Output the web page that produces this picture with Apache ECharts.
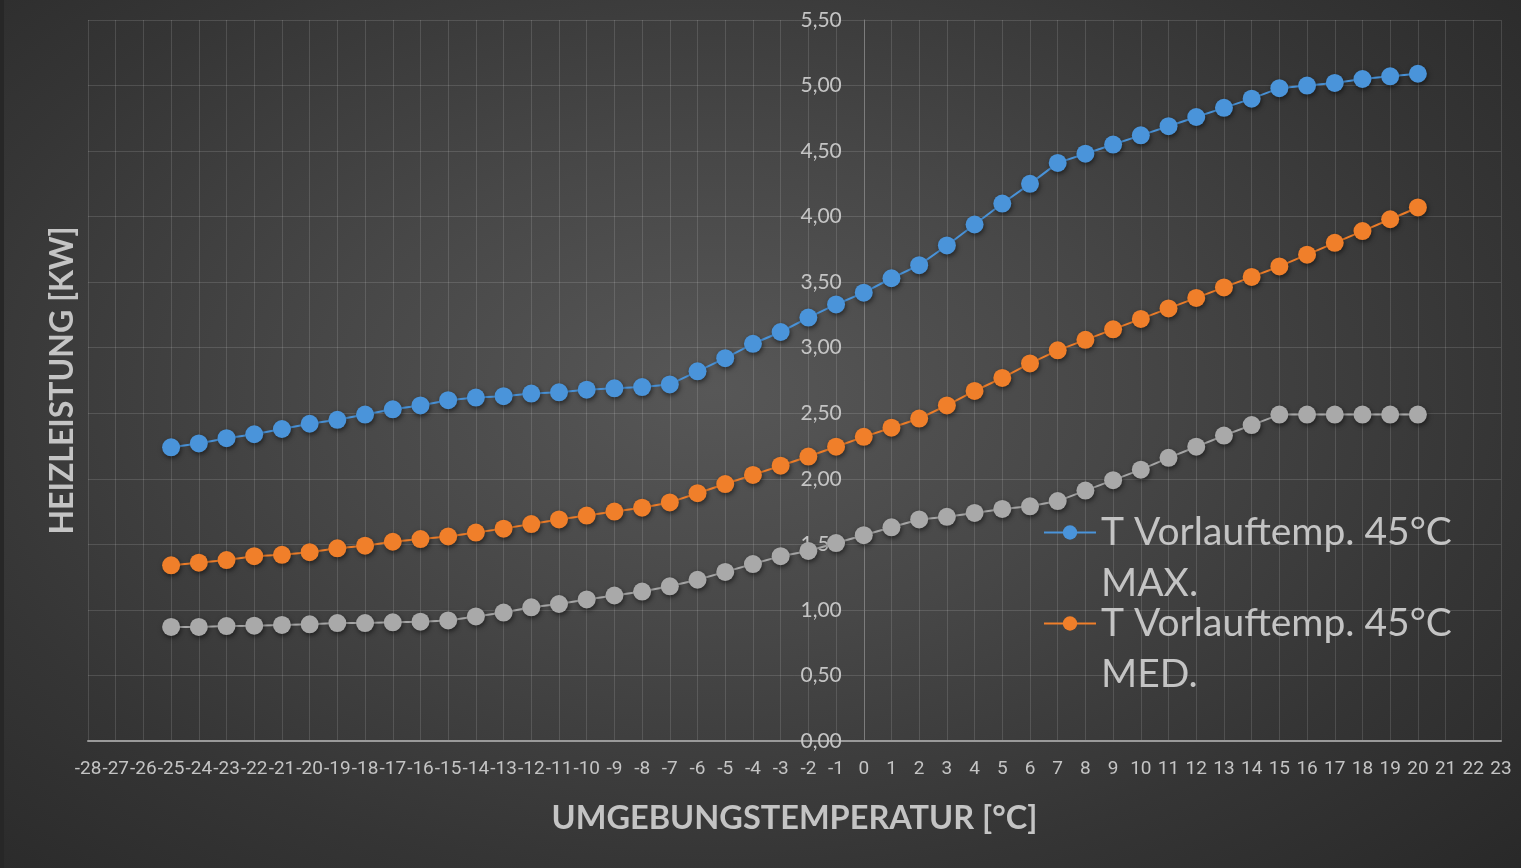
<!DOCTYPE html>
<html>
<head>
<meta charset="utf-8">
<script src="https://cdn.jsdelivr.net/npm/echarts@6/dist/echarts.min.js"></script>
<style>
html,body{margin:0;padding:0;width:1521px;height:868px;overflow:hidden;background:#2a2a2a;}
#c{position:absolute;left:0;top:0;width:1521px;height:868px;
background:radial-gradient(ellipse 75% 80% at 47% 45%, #575757 0%, #474747 35%, #353535 70%, #282828 100%);}
#strip{position:absolute;left:0;top:0;width:4px;height:868px;background:#272727;}
</style>
</head>
<body>
<div id="c"></div>
<div id="strip"></div>
<script>
const temps = [-25,-24,-23,-22,-21,-20,-19,-18,-17,-16,-15,-14,-13,-12,-11,-10,-9,-8,-7,-6,-5,-4,-3,-2,-1,0,1,2,3,4,5,6,7,8,9,10,11,12,13,14,15,16,17,18,19,20];
const maxValues = [2.24,2.27,2.31,2.34,2.38,2.42,2.45,2.49,2.53,2.56,2.60,2.62,2.63,2.65,2.66,2.68,2.69,2.70,2.72,2.82,2.92,3.03,3.12,3.23,3.33,3.42,3.53,3.63,3.78,3.94,4.10,4.25,4.41,4.48,4.55,4.62,4.69,4.76,4.83,4.90,4.98,5.00,5.02,5.05,5.07,5.09];
const medValues = [1.34,1.36,1.38,1.41,1.42,1.44,1.47,1.49,1.52,1.54,1.56,1.59,1.62,1.655,1.69,1.72,1.75,1.78,1.82,1.89,1.96,2.03,2.10,2.17,2.245,2.32,2.39,2.46,2.56,2.67,2.77,2.88,2.98,3.06,3.14,3.22,3.30,3.38,3.46,3.54,3.62,3.71,3.80,3.89,3.98,4.07];
const minValues = [0.87,0.87,0.877,0.88,0.885,0.89,0.90,0.90,0.905,0.91,0.92,0.95,0.98,1.02,1.045,1.08,1.11,1.14,1.18,1.23,1.29,1.35,1.41,1.45,1.51,1.57,1.63,1.69,1.71,1.74,1.77,1.79,1.83,1.91,1.99,2.07,2.16,2.245,2.33,2.41,2.49,2.49,2.49,2.49,2.49,2.49];
const seriesNames = ['T Vorlauftemp. 45°C MAX.','T Vorlauftemp. 45°C MED.','T Vorlauftemp. 45°C MIN.'];
const seriesColors = ['#4a94da','#f07f2a','#a9a9a9'];
const xName = 'UMGEBUNGSTEMPERATUR [°C]';
const yName = 'HEIZLEISTUNG [KW]';
const xMin = -28, xMax = 23;

const FONT = 'Lato';
const textCol = '#c4c4c4';
const gridCol = 'rgba(255,255,255,0.13)';
const gridLeft = 88, gridRight = 20;
const plotW = 1521 - gridLeft - gridRight;
// shift the value axis so that it crosses the x axis at 0 °C
const yAxisOffset = -plotW * (0 - xMin) / (xMax - xMin);

function pairs(vals){ return temps.map((t,i)=>[t, vals[i]]); }
function mkSeries(i, vals){
  return {
    name: seriesNames[i], type:'line', data: pairs(vals),
    symbol:'circle', symbolSize:18,
    lineStyle:{color:seriesColors[i], width:2},
    itemStyle:{color:seriesColors[i], shadowBlur:5, shadowColor:'rgba(0,0,0,0.55)', shadowOffsetX:1, shadowOffsetY:2},
    emphasis:{disabled:true},
    animation:false
  };
}

const chart = echarts.init(document.getElementById('c'), null, {renderer:'canvas'});
chart.setOption({
  backgroundColor:'transparent',
  textStyle:{fontFamily:FONT},
  grid:{left:gridLeft, right:gridRight, top:20, bottom:127, containLabel:false, outerBoundsMode:'none'},
  xAxis:{
    type:'value', min:xMin, max:xMax, interval:1,
    name:xName, nameLocation:'middle', nameGap:61,
    nameTextStyle:{color:textCol, fontSize:32.5, fontWeight:'bold', fontFamily:FONT},
    axisLine:{onZero:false, lineStyle:{color:'#9a9a9a', width:2}},
    axisTick:{show:false},
    axisLabel:{color:textCol, fontSize:19, margin:19, fontFamily:'Roboto', hideOverlap:false, showMinLabel:true, showMaxLabel:true},
    splitLine:{show:true, lineStyle:{color:gridCol, width:1}}
  },
  yAxis:{
    type:'value', min:0, max:5.5, interval:0.5,
    position:'left', offset:yAxisOffset,
    name:yName, nameLocation:'middle', nameGap:785, nameRotate:90,
    nameTextStyle:{color:textCol, fontSize:32, fontWeight:'bold', fontFamily:FONT},
    axisLine:{show:true, onZero:false, lineStyle:{color:'#7c7c7c', width:1}},
    axisTick:{show:false},
    axisLabel:{color:textCol, fontSize:21, margin:22, fontFamily:FONT, showMinLabel:true, showMaxLabel:true,
      formatter: v => v.toFixed(2).replace('.', ',')},
    splitLine:{show:true, lineStyle:{color:gridCol, width:1}}
  },
  legend:{
    data:[seriesNames[0], seriesNames[1]],
    orient:'vertical', left:1038, top:451,
    itemWidth:52, itemHeight:18, itemGap:-62,
    formatter: n => '\n' + n.replace(/ (MAX\.|MED\.|MIN\.)$/, '\n$1'),
    textStyle:{color:textCol, fontSize:39, fontFamily:FONT, lineHeight:51},
    selectedMode:false
  },
  series:[mkSeries(0,maxValues), mkSeries(1,medValues), mkSeries(2,minValues)]
});
</script>
</body>
</html>
